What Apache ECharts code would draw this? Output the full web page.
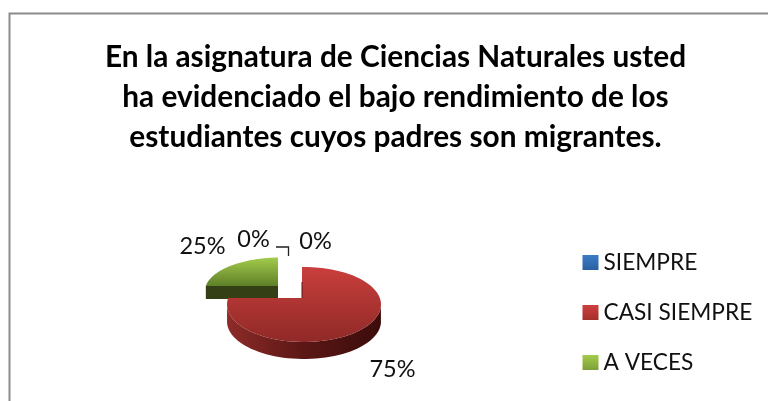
<!DOCTYPE html>
<html><head><meta charset="utf-8">
<style>html,body{margin:0;padding:0;background:#fff}#c{width:768px;height:401px}</style>
<script src="https://cdn.jsdelivr.net/npm/echarts@6/dist/echarts.min.js"></script>
</head><body><div id="c"></div>
<script>
const titleText = 'En la asignatura de Ciencias Naturales usted\nha evidenciado el bajo rendimiento de los\nestudiantes cuyos padres son migrantes.';
const categories = ['SIEMPRE', 'CASI SIEMPRE', 'A VECES'];
const values = [0, 75, 25];

const FONT = 'Lato';
const LABEL_FONT = '23.5px ' + FONT;
const lg = (x0,y0,x1,y1,a,b,c) => ({type:'linear',x:x0,y:y0,x2:x1,y2:y1,colorStops:
  c ? [{offset:0,color:a},{offset:.5,color:b},{offset:1,color:c}] : [{offset:0,color:a},{offset:1,color:b}]});
const looks = [
  {top:lg(0,0,0,1,'#3f7fcf','#2a5f9f'), side:'#1d3f6a', legend:lg(0,0,0,1,'#3a7cc8','#2c5f9e'),
   geo:{cx:304,cy:304.5,a:77,b:37.5,ax:302,ay:298,depth:17}, label:[253.5,239]},
  {top:lg(0,0,0,1,'#c93f3c','#8f2927'), side:lg(0,0,1,0,'#8e2b29','#5a1715','#3b0c0b'), legend:lg(0,0,0,1,'#cd403d','#a52f2c'),
   geo:{cx:304,cy:304.5,a:77,b:37.5,ax:302,ay:298,depth:17}, label:[392.5,369]},
  {top:lg(0,0,0,1,'#a3cb4c','#5f8029'), side:'#343f15', legend:lg(0,0,0,1,'#a3cb4c','#7f9f38'),
   geo:{cx:280,cy:291,a:75,b:33.5,ax:278,ay:286,depth:13}, label:[202.5,246]}
];
const extraLabel = {pos:[315.5,241]};

function rim(g, th){
  const dx=g.a*Math.sin(th), dy=-g.b*Math.cos(th);
  const ox=(g.ax-g.cx)/g.a, oy=(g.ay-g.cy)/g.b, ux=dx/g.a, uy=dy/g.b;
  const A=ux*ux+uy*uy, B=2*(ox*ux+oy*uy), C=ox*ox+oy*oy-1;
  const t=(-B+Math.sqrt(B*B-4*A*C))/(2*A);
  return [g.ax+dx*t, g.ay+dy*t];
}
const total = values.reduce((a,b)=>a+b,0);
function renderSlice(i){
  return function(params, api){
    const v = api.value(0), look = looks[i], g = look.geo, kids = [];
    const before = values.slice(0,i).reduce((a,b)=>a+b,0);
    const th0 = before/total*2*Math.PI, th1 = (before+v)/total*2*Math.PI;
    const pct = Math.round(v/total*100)+'%';
    if (v>0){
      const top=[[g.ax,g.ay]], n=90;
      for(let k=0;k<=n;k++) top.push(rim(g, th0+(th1-th0)*k/n));
      const start=top[1];
      const low=[];
      for(let k=0;k<=n;k++){
        const th=th0+(th1-th0)*k/n, p=rim(g,th);
        if (p[1]>=g.cy-0.01 && th>=Math.PI/2-1e-6) low.push(p);
      }
      if (low.length>1){
        const wall=low.concat(low.slice().reverse().map(p=>[p[0],p[1]+g.depth]));
        kids.push({type:'polygon',shape:{points:wall},style:{fill:look.side}});
      }
      if (i===2){
        kids.push({type:'polygon',shape:{points:[start,[g.ax,g.ay],[g.ax,g.ay+g.depth],[start[0],start[1]+g.depth]]},style:{fill:look.side}});
      }
      kids.push({type:'polygon',shape:{points:top},style:{fill:look.top}});
      if (i===1){
        kids.push({type:'line',shape:{x1:g.ax,y1:g.ay,x2:g.ax,y2:g.ay-16},style:{stroke:'#5a1715',lineWidth:1}});
      }
    }
    kids.push({type:'text',x:look.label[0],y:look.label[1],style:{text:pct,font:LABEL_FONT,fill:'#111',align:'center',verticalAlign:'middle'}});
    if (i===0){
      kids.push({type:'text',x:extraLabel.pos[0],y:extraLabel.pos[1],style:{text:pct,font:LABEL_FONT,fill:'#111',align:'center',verticalAlign:'middle'}});
      kids.push({type:'polyline',shape:{points:[[276,247],[288.5,247],[288.5,256]]},style:{fill:'none',stroke:'#222',lineWidth:1.3}});
    }
    return {type:'group',children:kids};
  };
}
const chart = echarts.init(document.getElementById('c'), null, {renderer:'canvas'});
chart.setOption({
  animation:false,
  backgroundColor:'#fff',
  title:{text:titleText,left:390.5,top:32,textAlign:'center',
    textStyle:{fontFamily:FONT,fontWeight:'bold',fontSize:29.8,lineHeight:40,color:'#000'}},
  legend:{orient:'vertical',left:577.5,top:246,itemWidth:16,itemHeight:15,itemGap:27,
    icon:'rect',data:categories,selectedMode:false,
    textStyle:{fontFamily:FONT,fontSize:22.7,lineHeight:15,color:'#111'}},
  graphic:[
    {type:'polyline',shape:{points:[[9.5,401],[9.5,13.5],[768,13.5]]},style:{fill:'none',stroke:'#8c8c8c',lineWidth:2},silent:true}
  ],
  series:categories.map((name,i)=>({
    name,type:'custom',coordinateSystem:'none',
    z: i===1?3:2,
    silent:true,
    itemStyle:{color:looks[i].legend},
    encode:{value:0},
    data:[[values[i]]],
    renderItem:renderSlice(i)
  }))
});
</script></body></html>
